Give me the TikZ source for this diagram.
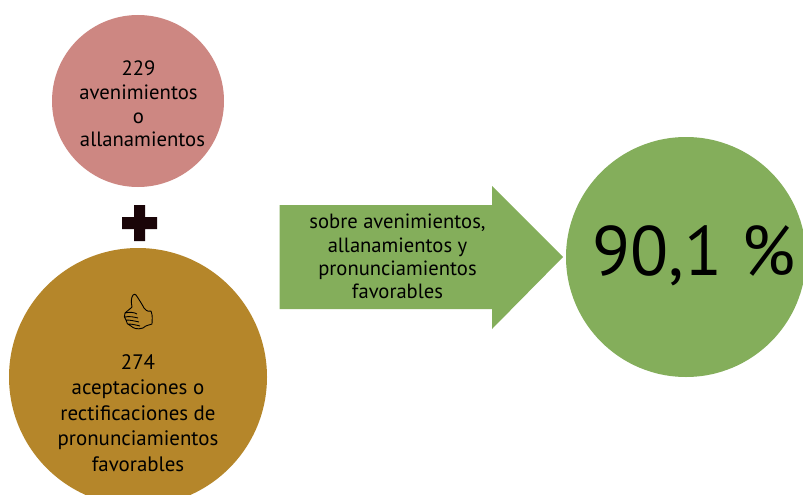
\documentclass[tikz,border=0pt]{standalone}
\usepackage{fontspec}
\setmainfont{PT Sans}
\definecolor{pinkc}{HTML}{CD8782}
\definecolor{goldc}{HTML}{B5862A}
\definecolor{greenc}{HTML}{84AE5B}
\definecolor{inkc}{HTML}{1A0508}
\tikzset{
  disc/.style={circle,inner sep=0pt,draw=none,minimum size=#1},
  lbl/.style={align=center,inner sep=0pt,text=black,font=\fontsize{20.7}{23.7}\selectfont},
  goldlbl/.style={align=center,inner sep=0pt,text=black,font=\fontsize{20.9}{25.5}\selectfont},
  arrowlbl/.style={align=center,inner sep=0pt,text=black,font=\fontsize{20.6}{23.2}\selectfont}
}
\begin{document}
\begin{tikzpicture}[x=1pt,y=-1pt]
\useasboundingbox (0,0) rectangle (803,495);
\fill[white] (0,0) rectangle (803,495);
\clip (0,0) rectangle (803,495);
\node[disc=172pt,fill=pinkc] (pink) at (138,101) {};
\node[disc=258pt,fill=goldc] (gold) at (138,377) {};
\node[disc=240pt,fill=greenc] (green) at (686,257) {};
\fill[greenc] (279.5,205) -- (492,205) -- (492,186) -- (563,257) -- (492,329) -- (492,309) -- (279.5,309) -- cycle;
\fill[inkc] (134,205) -- (145,205) -- (145,217) -- (157,217) -- (157,229) -- (145,229) -- (145,241) -- (134,241) -- (134,229) -- (122,229) -- (122,217) -- (134,217) -- cycle;
% thumb
\draw[black,line width=0.9pt,line join=round,fill=none]
  (133,295) .. controls (131,298) and (131,302) .. (132,307)
  .. controls (129,310) and (127,311) .. (125,313)
  .. controls (124,316) and (124,318) .. (126,320)
  .. controls (126,323) and (128,325) .. (131,326)
  .. controls (133,328) and (137,330) .. (143,328)
  .. controls (146,325) and (150,325) .. (152,324)
  .. controls (152,320) and (153,316) .. (151,311)
  .. controls (147,312) and (146,310) .. (144,308)
  .. controls (142,304) and (138,298) .. (136,295)
  .. controls (135,294) and (134,294) .. (133,295) -- cycle
  (125,313) .. controls (129,312) and (134,312) .. (137,314)
  (125,317) .. controls (129,316) and (134,317) .. (138,318)
  (126,320) .. controls (130,320) and (135,321) .. (139,322)
  (128,324) .. controls (132,324) and (136,325) .. (140,326);
\node[lbl] (pinktext) at (138.5,104) {229\\avenimientos\\o\\\hspace*{8pt}allanamientos};
\node[goldlbl] (goldtext) at (138,413) {274\\aceptaciones o\\rectificaciones de\\pronunciamientos\\favorables};
\node[arrowlbl] (arrowtext) at (397.5,256.5) {sobre avenimientos,\\allanamientos y\\pronunciamientos\\favorables};
\node[inner sep=0pt,text=black,font=\fontsize{70}{76}\selectfont] (pct) at (694,256) {90,1 \%};
\end{tikzpicture}
\end{document}
